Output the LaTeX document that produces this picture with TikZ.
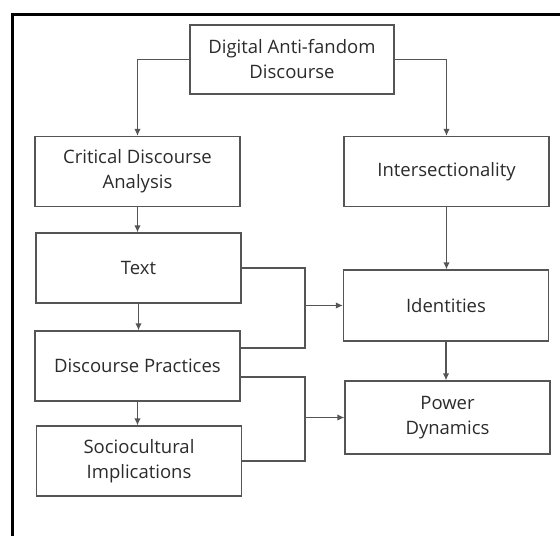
\documentclass[tikz,border=0pt]{standalone}
\usepackage{fontspec}
\setmainfont{Open Sans}
\usetikzlibrary{arrows.meta}

\definecolor{edgegray}{HTML}{555555}
\definecolor{textgray}{HTML}{2B2B2B}

\tikzset{
  box/.style={draw=edgegray, line width=1.3pt, minimum width=205pt, minimum height=70pt,
    align=center, text=textgray, font=\fontsize{18.5}{25}\selectfont, inner sep=0pt},
  link/.style={draw=edgegray, line width=1.3pt},
  arr/.style={link, -{Latex[length=7pt,width=6.5pt]}}
}

\begin{document}
\begin{tikzpicture}[x=1pt,y=-1pt]
  \useasboundingbox (0,0) rectangle (560,536);
  % outer frame, only top and left edges show
  \draw[line width=3pt] (12,536) -- (12,14) -- (560,14);

  \node[box, minimum width=204pt, minimum height=69pt] (dig) at (292,59.5) {Digital Anti-fandom\\Discourse};

  \node[box] (cda) at (137.5,171.5) {Critical Discourse\\Analysis};
  \node[box] (text) at (138.5,268) {Text};
  \node[box] (dp) at (137.5,366) {Discourse Practices};
  \node[box] (soc) at (139,461) {Sociocultural\\Implications};

  \node[box] (inter) at (446.5,171.5) {Intersectionality};
  \node[box, minimum height=71pt] (ident) at (446,305.5) {Identities};
  \node[box, minimum height=73pt] (power) at (447.5,417.5) {Power\\Dynamics};

  \coordinate (bus) at (305,0);

  % top split
  \draw[arr] (dig.west) -| (cda.north);
  \draw[arr] (dig.east) -| (inter.north);

  % left column
  \draw[arr] (cda.south) -- (cda.south |- text.north);
  \draw[arr] (text.south) -- (text.south |- dp.north);
  \draw[arr] (dp.south) -- (dp.south |- soc.north);

  % right column
  \draw[arr] (inter.south) -- (inter.south |- ident.north);
  \draw[arr] (ident.south) -- (ident.south |- power.north);

  % joins into identities
  \draw[link] (text.east) -- (text.east -| bus) |- ([yshift=18pt]dp.east);
  \draw[arr] (bus |- ident.west) -- (ident.west);

  % joins into power dynamics
  \draw[link] ([yshift=-11pt]dp.east) -- ([yshift=-11pt]dp.east -| bus) |- (soc.east);
  \draw[arr] (bus |- power.west) -- (power.west);
\end{tikzpicture}
\end{document}
